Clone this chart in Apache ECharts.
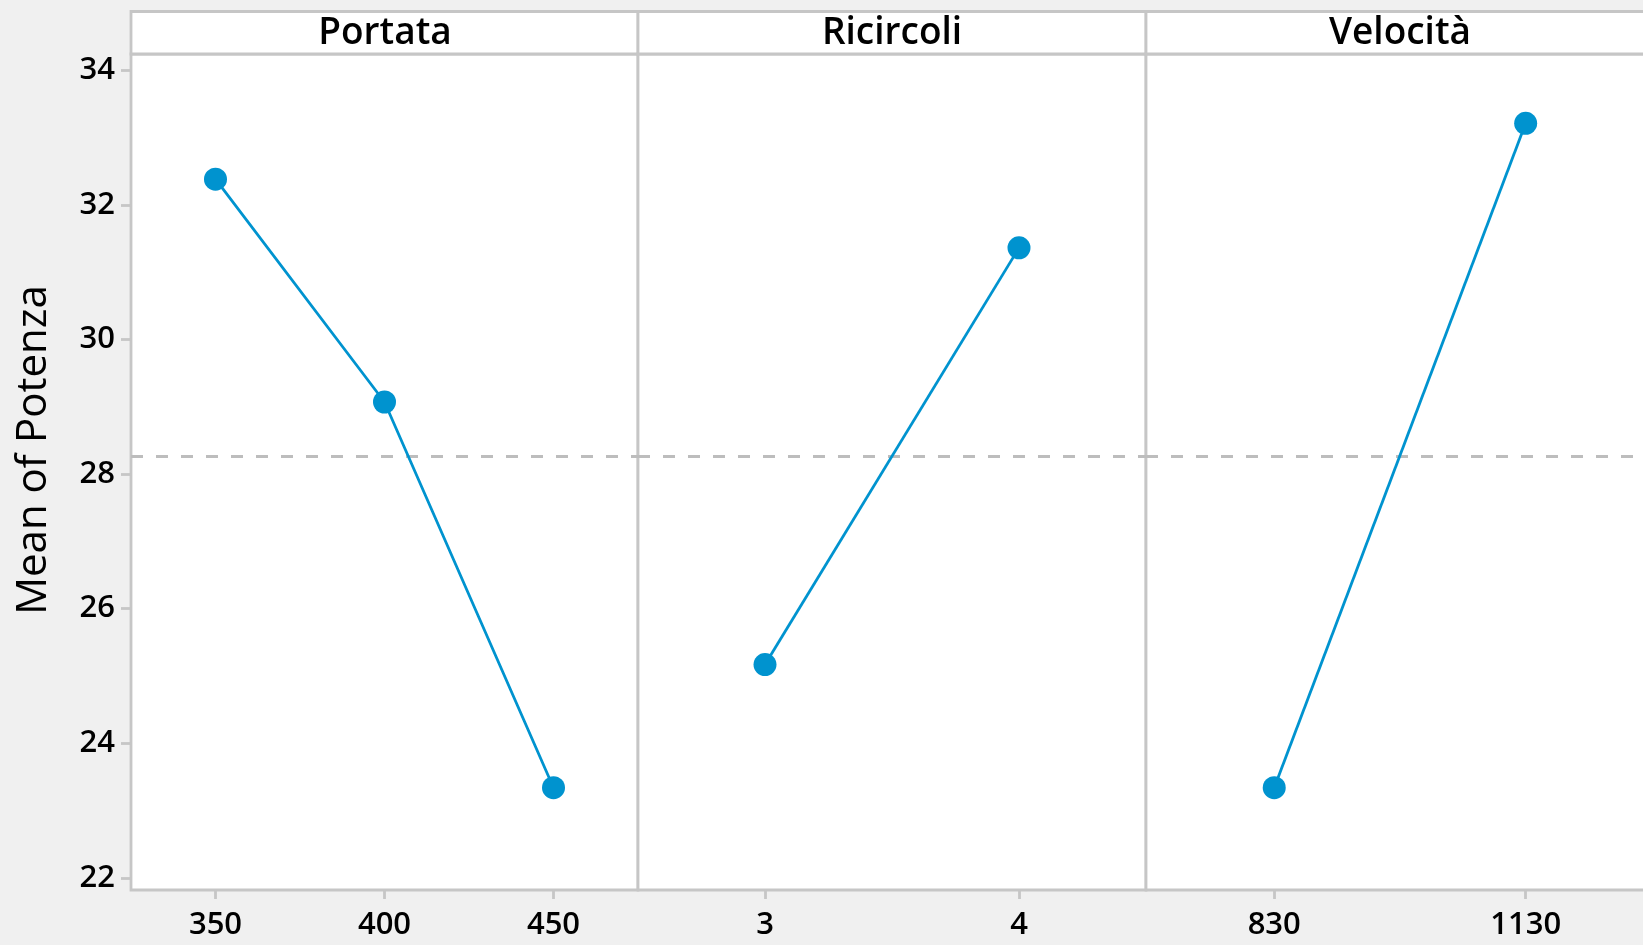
<!DOCTYPE html>
<html>
<head>
<meta charset="utf-8">
<script src="https://cdn.jsdelivr.net/npm/echarts@6/dist/echarts.min.js"></script>
<style>
html,body{margin:0;padding:0;background:#F0F0F0;}
#c{width:1643px;height:945px;}
</style>
</head>
<body>
<div id="c"></div>
<script>
// ---- data ----
const panels = ['Portata', 'Ricircoli', 'Velocità'];
const portataX = [350, 400, 450];
const portataY = [32.38, 29.07, 23.34];
const ricircoliX = [3, 4];
const ricircoliY = [25.17, 31.36];
const velocitaX = [830, 1130];
const velocitaY = [23.34, 33.21];
const grandMean = 28.26;
const yTicks = [22, 24, 26, 28, 30, 32, 34];
const yTitle = 'Mean of Potenza';

const xs = [portataX, ricircoliX, velocitaX];
const ys = [portataY, ricircoliY, velocitaY];
const xRanges = [[325, 475], [2.5, 4.5], [677, 1270]];

// ---- layout ----
const BLUE = '#0093CF';
const GREY = '#C6C6C6';
const FONT = '"Open Sans", "Noto Sans", sans-serif';
const lefts = [131, 638, 1146];
const widths = [507, 508, 497];
const boxW = [507, 508, 530];
const TOP = 54, BOTTOM_Y = 890, HEADER_TOP = 11.5;

const chart = echarts.init(document.getElementById('c'), null, {renderer: 'canvas'});

const grids = [], xAxes = [], yAxes = [], series = [], graphics = [];

panels.forEach((name, i) => {
  // panel box (plot area)
  graphics.push({
    type: 'rect', z: 0,
    shape: {x: lefts[i], y: TOP, width: boxW[i], height: BOTTOM_Y - TOP},
    style: {fill: '#FFFFFF', stroke: GREY, lineWidth: 2.8}
  });
  // header strip
  graphics.push({
    type: 'rect', z: 0,
    shape: {x: lefts[i], y: HEADER_TOP, width: boxW[i], height: TOP - HEADER_TOP},
    style: {fill: '#FFFFFF', stroke: GREY, lineWidth: 2.8}
  });
  graphics.push({
    type: 'text', z: 5,
    x: lefts[i] + 254, y: (HEADER_TOP + TOP) / 2 + 1,
    style: {text: name, fill: '#000', font: '600 37px ' + FONT, align: 'center', verticalAlign: 'middle'}
  });
  grids.push({
    left: lefts[i], top: TOP, width: widths[i], height: BOTTOM_Y - TOP, show: false
  });
  xAxes.push({
    type: 'value', gridIndex: i, min: xRanges[i][0], max: xRanges[i][1],
    splitLine: {show: false},
    axisLine: {show: false},
    axisTick: {show: true, length: 9, lineStyle: {color: GREY, width: 2.8}, customValues: xs[i]},
    axisLabel: {show: true, customValues: xs[i], margin: 20, color: '#000',
      fontFamily: FONT, fontWeight: 600, fontSize: 31, formatter: v => String(v)}
  });
  yAxes.push({
    type: 'value', gridIndex: i, min: 21.82, max: 34.24,
    splitLine: {show: false},
    axisLine: {show: false},
    axisTick: {show: i === 0, length: 10, lineStyle: {color: GREY, width: 2.8}, customValues: yTicks},
    axisLabel: {show: i === 0, customValues: yTicks, margin: 16, color: '#000',
      fontFamily: FONT, fontWeight: 600, fontSize: 31, formatter: v => String(v)}
  });
  series.push({
    type: 'line', xAxisIndex: i, yAxisIndex: i,
    data: xs[i].map((x, k) => [x, ys[i][k]]),
    symbol: 'circle', symbolSize: 23,
    lineStyle: {color: BLUE, width: 2.8},
    itemStyle: {color: BLUE},
    z: 3,
    markLine: {
      silent: true, symbol: 'none', label: {show: false},
      lineStyle: {color: '#BDBDBD', type: [12, 13], width: 2.8},
      data: [{yAxis: grandMean}], z: 1
    }
  });
});

graphics.push({
  type: 'text', x: 34, y: 450, rotation: Math.PI / 2,
  style: {text: yTitle, fill: '#000', font: '500 42px ' + FONT, align: 'center', verticalAlign: 'middle'}
});

chart.setOption({
  backgroundColor: '#F0F0F0',
  animation: false,
  grid: grids, xAxis: xAxes, yAxis: yAxes, series: series,
  graphic: graphics
});
</script>
</body>
</html>
